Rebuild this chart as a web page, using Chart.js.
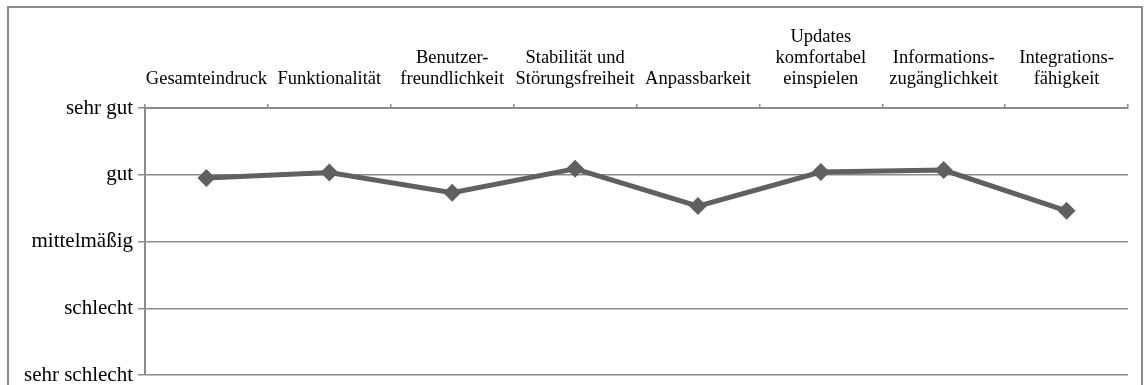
<!DOCTYPE html>
<html lang="de">
<head>
<meta charset="utf-8">
<script src="https://cdn.jsdelivr.net/npm/chart.js@4/dist/chart.umd.min.js"></script>
<style>
  html, body { margin: 0; padding: 0; background: #fff; }
  #wrap { width: 1144px; height: 385px; position: relative; }
</style>
</head>
<body>
<div id="wrap"><canvas id="c" width="1144" height="385"></canvas></div>
<script>
// Bewertungskategorien (mehrzeilige Beschriftungen als Arrays)
const categories = [
  'Gesamteindruck',
  'Funktionalität',
  ['Benutzer-', 'freundlichkeit'],
  ['Stabilität und', 'Störungsfreiheit'],
  'Anpassbarkeit',
  ['Updates', 'komfortabel', 'einspielen'],
  ['Informations-', 'zugänglichkeit'],
  ['Integrations-', 'fähigkeit']
];

// Durchschnittsnote je Kategorie (1 = sehr gut ... 5 = sehr schlecht)
const ratings = [2.05, 1.965, 2.27, 1.91, 2.47, 1.96, 1.93, 2.54];

// Beschriftung der Notenskala
const ratingLabels = ['sehr gut', 'gut', 'mittelmäßig', 'schlecht', 'sehr schlecht'];

const FONT = "'Liberation Serif', 'Times New Roman', serif";
const GRID = '#8c8c8c';
const SERIES = '#606060';

// Rahmen um die gesamte Grafik
const frame = {
  id: 'frame',
  beforeDraw(chart) {
    const ctx = chart.ctx;
    ctx.save();
    ctx.strokeStyle = '#8a8a8a';
    ctx.lineWidth = 2;
    ctx.strokeRect(8, 7, 1134, 420);
    ctx.restore();
  }
};

new Chart(document.getElementById('c'), {
  type: 'line',
  data: {
    labels: categories,
    datasets: [{
      data: ratings,
      borderColor: SERIES,
      backgroundColor: SERIES,
      borderWidth: 5,
      pointStyle: 'rectRot',
      pointRadius: 9,
      pointHoverRadius: 9,
      pointBackgroundColor: SERIES,
      pointBorderColor: SERIES,
      pointBorderWidth: 0,
      tension: 0,
      fill: false,
      clip: false
    }]
  },
  options: {
    responsive: false,
    animation: false,
    events: [],
    layout: { padding: { left: 0, top: 0, right: 16, bottom: 10 } },
    plugins: {
      legend: { display: false },
      tooltip: { enabled: false }
    },
    scales: {
      x: {
        type: 'category',
        position: 'top',
        offset: true,
        grid: {
          offset: true,
          drawOnChartArea: false,
          drawTicks: true,
          tickLength: 4,
          color: GRID,
          lineWidth: 1.5
        },
        border: { display: true, color: GRID, width: 2 },
        ticks: {
          maxRotation: 0,
          minRotation: 0,
          autoSkip: false,
          padding: 14,
          color: '#000',
          font: { family: FONT, size: 18.5, lineHeight: 1.14 }
        },
        afterFit(scale) { scale.height = 108; }
      },
      y: {
        type: 'linear',
        position: 'left',
        reverse: true,
        min: 1,
        max: 5,
        grid: {
          color: GRID,
          lineWidth: 1.5,
          drawTicks: true,
          tickLength: 7
        },
        border: { display: true, color: GRID, width: 2 },
        ticks: {
          stepSize: 1,
          padding: 5,
          color: '#000',
          font: { family: FONT, size: 21 },
          callback: (v) => ratingLabels[Math.round(v) - 1] ?? ''
        },
        afterFit(scale) {
          scale.width = 145;
          scale.paddingTop = 0;
          scale.paddingBottom = 0;
        }
      }
    }
  },
  plugins: [frame]
});
</script>
</body>
</html>
